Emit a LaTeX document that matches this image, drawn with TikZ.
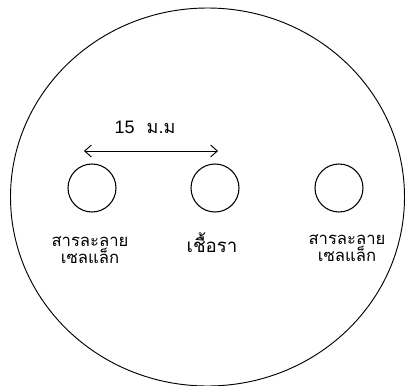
\documentclass[tikz,border=0pt]{standalone}
\usepackage{fontspec}
\setmainfont{Liberation Sans}
\newfontfamily\thaifont[Script=Thai]{Loma}
\usetikzlibrary{arrows.meta, positioning, calc}

\begin{document}
\begin{tikzpicture}[x=0.75pt,y=-0.75pt, line cap=round, >={Straight Barb[length=5pt,width=9pt]},
    well/.style={draw, circle, minimum size=36pt, inner sep=0pt, line width=0.8pt},
    lab/.style={font=\thaifont\fontsize{12.5}{13}\selectfont, align=center, inner sep=0pt}]

  \useasboundingbox (0,0) rectangle (406,385);

  %--- piastra
  \draw[line width=0.7pt] (207.5,197) ellipse [x radius=197, y radius=189];

  %--- pozzetti
  \node[well] (sx) at (92,188) {};
  \node[well] (mid) at (215,188) {};
  \node[well] (dx) at (339,188) {};

  % etichette
  \node[lab] (labsx) at (90,250) {สารละลาย\\เซลแล็ก};
  \node[lab, font=\thaifont\fontsize{14}{15}\selectfont] (labmid) at (212,243) {เชื้อรา};
  \node[lab] (labdx) at (347,248) {สารละลาย\\เซลแล็ก};

  %--- distanza 15 mm
  \coordinate (distsx) at (84,151);
  \coordinate (distdx) at (218,151);
  \draw[<->, line width=0.7pt] (distsx) -- (distdx);
  \node[font=\fontsize{13.5}{15}\selectfont] (dist) at (145,127) {15\hspace{9pt}{\thaifont ม.ม}};
\end{tikzpicture}
\end{document}
